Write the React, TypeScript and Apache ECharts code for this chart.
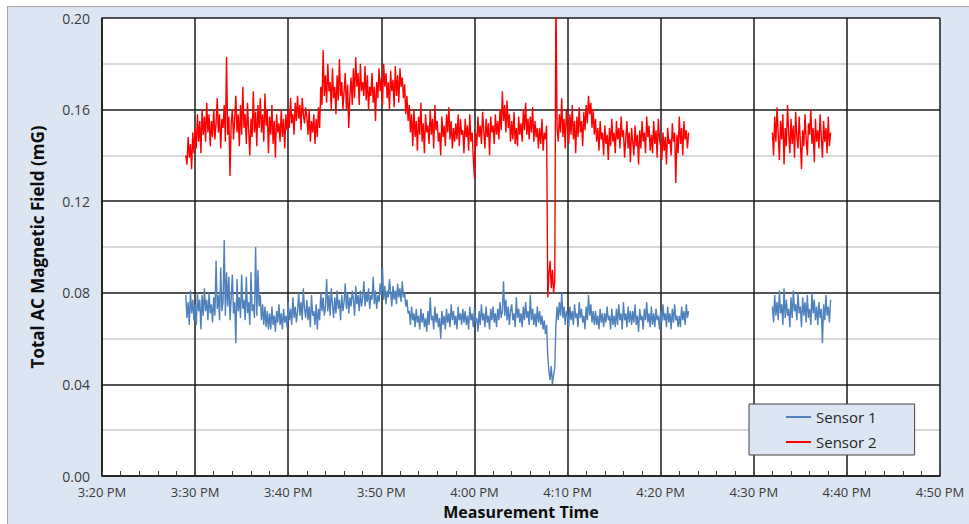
import React, { useEffect, useRef } from "react";
import * as echarts from "echarts";

// Tick labels of the time axis (every 10 minutes from 3:20 PM)
const xTickLabels = ["3:20 PM", "3:30 PM", "3:40 PM", "3:50 PM", "4:00 PM", "4:10 PM", "4:20 PM", "4:30 PM", "4:40 PM", "4:50 PM"];
const seriesNames = ["Sensor 1", "Sensor 2"];

// Sampling: minutes after 3:20 PM, one reading every 0.125 min (8 per minute)
const sampleStepMin = 0.125;
const segment1StartMin = 9; // 3:29 PM
const segment2StartMin = 72; // 4:32 PM
const gapMin = 67.5;

// Sensor 1 (mG), 3:29 PM – 4:23 PM, one row per minute
const sensor1Segment1 = [
  0.079, 0.069, 0.076, 0.066, 0.081, 0.071, 0.077, 0.068,
  0.075, 0.066, 0.080, 0.072, 0.077, 0.064, 0.079, 0.070,
  0.082, 0.072, 0.077, 0.068, 0.080, 0.071, 0.075, 0.067,
  0.078, 0.070, 0.094, 0.073, 0.079, 0.068, 0.091, 0.072,
  0.076, 0.103, 0.070, 0.089, 0.074, 0.087, 0.068, 0.078,
  0.088, 0.071, 0.076, 0.058, 0.086, 0.072, 0.078, 0.069,
  0.088, 0.073, 0.077, 0.068, 0.087, 0.071, 0.076, 0.066,
  0.089, 0.072, 0.075, 0.069, 0.100, 0.070, 0.090, 0.074,
  0.079, 0.068, 0.075, 0.066, 0.074, 0.065, 0.072, 0.064,
  0.071, 0.064, 0.074, 0.066, 0.070, 0.063, 0.072, 0.067,
  0.075, 0.066, 0.071, 0.064, 0.073, 0.067, 0.070, 0.065,
  0.076, 0.068, 0.073, 0.066, 0.078, 0.069, 0.074, 0.067,
  0.072, 0.080, 0.070, 0.076, 0.068, 0.082, 0.073, 0.069,
  0.077, 0.068, 0.074, 0.065, 0.079, 0.070, 0.072, 0.066,
  0.075, 0.064, 0.073, 0.068, 0.080, 0.072, 0.078, 0.070,
  0.074, 0.086, 0.072, 0.079, 0.070, 0.082, 0.075, 0.069,
  0.078, 0.071, 0.081, 0.073, 0.077, 0.068, 0.079, 0.072,
  0.076, 0.084, 0.073, 0.080, 0.071, 0.078, 0.074, 0.081,
  0.077, 0.070, 0.083, 0.075, 0.079, 0.072, 0.081, 0.074,
  0.078, 0.085, 0.074, 0.080, 0.076, 0.082, 0.073, 0.079,
  0.077, 0.087, 0.075, 0.081, 0.073, 0.079, 0.076, 0.084,
  0.079, 0.091, 0.077, 0.083, 0.075, 0.081, 0.078, 0.086,
  0.080, 0.074, 0.083, 0.077, 0.081, 0.075, 0.084, 0.078,
  0.082, 0.076, 0.085, 0.078, 0.080, 0.074, 0.077, 0.071,
  0.072, 0.066, 0.074, 0.068, 0.071, 0.065, 0.073, 0.067,
  0.070, 0.064, 0.073, 0.067, 0.071, 0.065, 0.069, 0.063,
  0.072, 0.066, 0.078, 0.068, 0.070, 0.064, 0.074, 0.067,
  0.071, 0.065, 0.069, 0.060, 0.072, 0.066, 0.070, 0.064,
  0.073, 0.067, 0.071, 0.065, 0.075, 0.068, 0.072, 0.066,
  0.070, 0.064, 0.074, 0.068, 0.071, 0.066, 0.073, 0.067,
  0.072, 0.066, 0.070, 0.064, 0.074, 0.068, 0.071, 0.065,
  0.073, 0.067, 0.069, 0.063, 0.072, 0.066, 0.075, 0.068,
  0.071, 0.065, 0.074, 0.067, 0.070, 0.064, 0.073, 0.068,
  0.074, 0.067, 0.071, 0.065, 0.073, 0.068, 0.076, 0.069,
  0.072, 0.085, 0.070, 0.077, 0.068, 0.074, 0.066, 0.072,
  0.075, 0.068, 0.071, 0.065, 0.078, 0.069, 0.073, 0.067,
  0.071, 0.065, 0.074, 0.068, 0.076, 0.069, 0.072, 0.066,
  0.079, 0.068, 0.073, 0.066, 0.071, 0.065, 0.074, 0.067,
  0.072, 0.066, 0.070, 0.064, 0.068, 0.062, 0.066, 0.052,
  0.046, 0.042, 0.048, 0.040, 0.044, 0.047, 0.066, 0.074,
  0.068, 0.076, 0.070, 0.080, 0.069, 0.074, 0.066, 0.072,
  0.070, 0.065, 0.074, 0.068, 0.072, 0.066, 0.075, 0.069,
  0.071, 0.065, 0.076, 0.069, 0.073, 0.067, 0.070, 0.064,
  0.074, 0.068, 0.079, 0.070, 0.075, 0.067, 0.072, 0.066,
  0.072, 0.066, 0.070, 0.064, 0.073, 0.067, 0.071, 0.065,
  0.071, 0.067, 0.074, 0.068, 0.070, 0.064, 0.073, 0.066,
  0.070, 0.065, 0.073, 0.066, 0.075, 0.068, 0.071, 0.064,
  0.076, 0.068, 0.071, 0.065, 0.074, 0.067, 0.072, 0.066,
  0.072, 0.067, 0.075, 0.066, 0.070, 0.063, 0.073, 0.068,
  0.070, 0.064, 0.073, 0.068, 0.076, 0.067, 0.071, 0.065,
  0.074, 0.066, 0.071, 0.065, 0.073, 0.068, 0.070, 0.064,
  0.072, 0.067, 0.075, 0.068, 0.071, 0.065, 0.074, 0.067,
  0.071, 0.064, 0.073, 0.067, 0.075, 0.068, 0.070, 0.065,
  0.070, 0.065, 0.074, 0.068, 0.072, 0.066, 0.075, 0.069,
  0.072,
];

// Sensor 1 (mG), 4:32 PM – 4:38 PM
const sensor1Segment2 = [
  0.074, 0.067, 0.079, 0.070, 0.076, 0.068, 0.081, 0.071,
  0.075, 0.066, 0.082, 0.069, 0.077, 0.070, 0.073, 0.065,
  0.078, 0.069, 0.081, 0.072, 0.075, 0.068, 0.080, 0.071,
  0.074, 0.065, 0.078, 0.070, 0.076, 0.067, 0.079, 0.069,
  0.073, 0.066, 0.080, 0.071, 0.077, 0.068, 0.074, 0.066,
  0.076, 0.069, 0.073, 0.058, 0.075, 0.068, 0.079, 0.070,
  0.074, 0.067, 0.077,
];

// Sensor 2 (mG), 3:29 PM – 4:23 PM, one row per minute
const sensor2Segment1 = [
  0.140, 0.136, 0.148, 0.139, 0.145, 0.134, 0.150, 0.141,
  0.152, 0.143, 0.158, 0.146, 0.155, 0.141, 0.160, 0.149,
  0.157, 0.146, 0.163, 0.150, 0.158, 0.144, 0.155, 0.148,
  0.160, 0.147, 0.154, 0.165, 0.150, 0.158, 0.143, 0.156,
  0.152, 0.162, 0.146, 0.183, 0.149, 0.157, 0.131, 0.154,
  0.160, 0.147, 0.156, 0.166, 0.150, 0.158, 0.144, 0.162,
  0.149, 0.170, 0.152, 0.158, 0.145, 0.163, 0.151, 0.140,
  0.156, 0.148, 0.168, 0.150, 0.159, 0.144, 0.162, 0.152,
  0.165, 0.150, 0.158, 0.146, 0.167, 0.153, 0.160, 0.141,
  0.157, 0.149, 0.162, 0.145, 0.155, 0.139, 0.158, 0.150,
  0.154, 0.146, 0.160, 0.148, 0.156, 0.143, 0.158, 0.151,
  0.160, 0.152, 0.165, 0.154, 0.158, 0.149, 0.163, 0.155,
  0.166, 0.156, 0.162, 0.151, 0.165, 0.158, 0.154, 0.161,
  0.157, 0.149, 0.160, 0.146, 0.155, 0.150, 0.158, 0.145,
  0.156, 0.148, 0.161, 0.152, 0.170, 0.162, 0.186, 0.166,
  0.175, 0.163, 0.180, 0.168, 0.172, 0.160, 0.178, 0.165,
  0.170, 0.158, 0.175, 0.164, 0.182, 0.166, 0.172, 0.160,
  0.168, 0.176, 0.160, 0.171, 0.152, 0.166, 0.174, 0.162,
  0.178, 0.165, 0.183, 0.170, 0.176, 0.162, 0.180, 0.168,
  0.172, 0.166, 0.179, 0.164, 0.175, 0.160, 0.170, 0.166,
  0.176, 0.163, 0.170, 0.155, 0.172, 0.165, 0.178, 0.168,
  0.174, 0.162, 0.180, 0.170, 0.176, 0.165, 0.172, 0.160,
  0.177, 0.168, 0.173, 0.161, 0.179, 0.166, 0.175, 0.163,
  0.178, 0.170, 0.174, 0.165, 0.171, 0.158, 0.166, 0.155,
  0.162, 0.150, 0.158, 0.144, 0.160, 0.148, 0.155, 0.142,
  0.157, 0.149, 0.163, 0.146, 0.154, 0.141, 0.158, 0.150,
  0.153, 0.145, 0.160, 0.149, 0.156, 0.143, 0.162, 0.151,
  0.155, 0.146, 0.150, 0.140, 0.157, 0.148, 0.153, 0.144,
  0.158, 0.150, 0.161, 0.147, 0.155, 0.143, 0.152, 0.146,
  0.154, 0.147, 0.158, 0.144, 0.156, 0.149, 0.151, 0.141,
  0.156, 0.148, 0.153, 0.142, 0.158, 0.146, 0.150, 0.139,
  0.130, 0.150, 0.144, 0.157, 0.148, 0.153, 0.145, 0.159,
  0.151, 0.143, 0.156, 0.148, 0.154, 0.140, 0.157, 0.150,
  0.153, 0.145, 0.158, 0.149, 0.155, 0.147, 0.160, 0.151,
  0.168, 0.155, 0.162, 0.150, 0.164, 0.152, 0.158, 0.146,
  0.155, 0.147, 0.159, 0.145, 0.152, 0.144, 0.157, 0.149,
  0.154, 0.146, 0.160, 0.151, 0.163, 0.149, 0.156, 0.147,
  0.157, 0.150, 0.161, 0.146, 0.155, 0.148, 0.152, 0.143,
  0.152, 0.145, 0.156, 0.142, 0.150, 0.147, 0.153, 0.078,
  0.088, 0.094, 0.082, 0.090, 0.080, 0.085, 0.212, 0.152,
  0.146, 0.158, 0.150, 0.165, 0.148, 0.156, 0.143, 0.160,
  0.152, 0.145, 0.158, 0.149, 0.162, 0.147, 0.155, 0.141,
  0.157, 0.148, 0.161, 0.150, 0.155, 0.144, 0.159, 0.151,
  0.162, 0.154, 0.166, 0.158, 0.163, 0.152, 0.160, 0.149,
  0.156, 0.146, 0.152, 0.142, 0.155, 0.147, 0.150, 0.140,
  0.153, 0.145, 0.149, 0.138, 0.152, 0.144, 0.156, 0.146,
  0.150, 0.141, 0.155, 0.147, 0.152, 0.143, 0.157, 0.148,
  0.151, 0.139, 0.147, 0.155, 0.143, 0.150, 0.137, 0.152,
  0.146, 0.140, 0.153, 0.144, 0.149, 0.136, 0.151, 0.143,
  0.155, 0.146, 0.150, 0.141, 0.157, 0.148, 0.153, 0.142,
  0.149, 0.141, 0.155, 0.145, 0.151, 0.139, 0.156, 0.147,
  0.144, 0.138, 0.150, 0.142, 0.148, 0.136, 0.152, 0.145,
  0.147, 0.140, 0.154, 0.146, 0.150, 0.128, 0.149, 0.141,
  0.157, 0.145, 0.152, 0.140, 0.155, 0.147, 0.151, 0.143,
  0.150,
];

// Sensor 2 (mG), 4:32 PM – 4:38 PM
const sensor2Segment2 = [
  0.150, 0.140, 0.157, 0.146, 0.161, 0.149, 0.138, 0.155,
  0.147, 0.158, 0.136, 0.152, 0.144, 0.162, 0.150, 0.141,
  0.156, 0.145, 0.153, 0.139, 0.159, 0.148, 0.143, 0.157,
  0.146, 0.134, 0.151, 0.144, 0.158, 0.147, 0.140, 0.154,
  0.149, 0.160, 0.145, 0.152, 0.137, 0.156, 0.146, 0.151,
  0.143, 0.158, 0.148, 0.139, 0.155, 0.146, 0.152, 0.141,
  0.157, 0.144, 0.150,
];

const FONT = "'Open Sans', 'Noto Sans', sans-serif";

function toPoints(startMin: number, values: number[]) {
  return values.map((v, i) => [startMin + i * sampleStepMin, v]);
}

function buildSeriesData(seg1: number[], seg2: number[]) {
  return [...toPoints(segment1StartMin, seg1), [gapMin, "-"], ...toPoints(segment2StartMin, seg2)];
}

export default function App() {
  const ref = useRef<HTMLDivElement>(null);

  useEffect(() => {
    if (!ref.current) return;
    const chart = echarts.init(ref.current, undefined, { renderer: "svg" });
    const majorLine = { color: "#1a1a1a", width: 1.5 };
    chart.setOption({
      animation: false,
      backgroundColor: "#dce6f2",
      textStyle: { fontFamily: FONT },
      grid: {
        left: 94,
        top: 11,
        width: 838,
        height: 458,
        show: true,
        backgroundColor: "#ffffff",
        borderWidth: 0,
        outerBoundsMode: "none",
        containLabel: false,
      },
      legend: {
        data: seriesNames,
        orient: "vertical",
        left: 741,
        top: 397,
        padding: [4, 38, 4, 37],
        itemGap: 7,
        itemWidth: 25,
        itemHeight: 2,
        icon: "rect",
        backgroundColor: "#dce6f2",
        borderColor: "#404040",
        borderWidth: 1,
        textStyle: { fontFamily: FONT, fontSize: 15, color: "#262626", lineHeight: 18 },
      },
      xAxis: {
        type: "value",
        min: 0,
        max: 90,
        interval: 10,
        name: "Measurement Time",
        nameLocation: "middle",
        nameGap: 27,
        nameMoveOverlap: false,
        nameTextStyle: { fontFamily: FONT, fontSize: 16, fontWeight: "bold", color: "#0d0d0d", lineHeight: 18 },
        axisLine: { show: true, onZero: false, lineStyle: { color: "#1a1a1a", width: 1.5 } },
        axisTick: { show: true, inside: true, length: 5, lineStyle: { color: "#404040" } },
        minorTick: { show: true, splitNumber: 5, length: 5, lineStyle: { color: "#404040", width: 1 } },
        axisLabel: {
          margin: 8,
          fontFamily: FONT,
          fontSize: 13,
          lineHeight: 16,
          color: "#3a3a3a",
          formatter: (v: number) => xTickLabels[Math.round(v / 10)] ?? "",
        },
        splitLine: { show: true, lineStyle: majorLine },
      },
      yAxis: {
        type: "value",
        min: 0,
        max: 0.2,
        interval: 0.04,
        name: "Total AC Magnetic Field (mG)",
        nameLocation: "middle",
        nameGap: 56,
        nameMoveOverlap: false,
        nameTextStyle: { fontFamily: FONT, fontSize: 17, fontWeight: "bold", color: "#0d0d0d" },
        axisLine: { show: true, lineStyle: { color: "#1a1a1a", width: 1.5 } },
        axisTick: { show: false },
        minorTick: { show: false, splitNumber: 2 },
        minorSplitLine: { show: true, lineStyle: { color: "#cccccc", width: 1.5 } },
        axisLabel: {
          margin: 12,
          fontFamily: FONT,
          fontSize: 14,
          color: "#3a3a3a",
          formatter: (v: number) => v.toFixed(2),
        },
        splitLine: { show: true, lineStyle: majorLine },
      },
      series: [
        {
          name: seriesNames[0],
          type: "line",
          data: buildSeriesData(sensor1Segment1, sensor1Segment2),
          showSymbol: false,
          connectNulls: false,
          clip: true,
          color: "#4f81bd",
          lineStyle: { color: "#4f81bd", width: 1.4 },
        },
        {
          name: seriesNames[1],
          type: "line",
          data: buildSeriesData(sensor2Segment1, sensor2Segment2),
          showSymbol: false,
          connectNulls: false,
          clip: true,
          color: "#ff0000",
          lineStyle: { color: "#ff0000", width: 1.4 },
        },
      ],
    });
    return () => chart.dispose();
  }, []);

  return (
    <div
      style={{
        position: "absolute",
        left: 7,
        top: 6,
        width: 961,
        height: 517,
        borderLeft: "1px solid #a6a6a6",
        borderTop: "1px solid #a6a6a6",
        background: "#dce6f2",
      }}
    >
      <div ref={ref} style={{ width: 961, height: 517 }} />
    </div>
  );
}
